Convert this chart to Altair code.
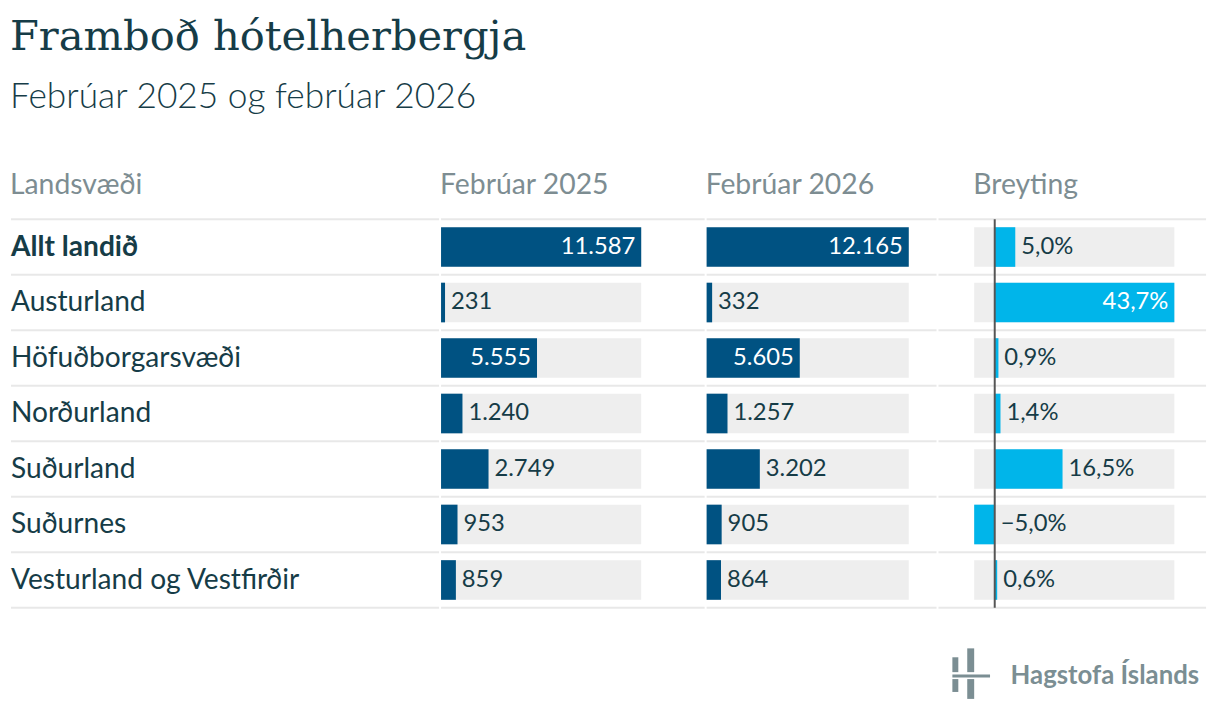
import altair as alt
import pandas as pd

# ---- data ----
regions = [
    "Allt landið",
    "Austurland",
    "Höfuðborgarsvæði",
    "Norðurland",
    "Suðurland",
    "Suðurnes",
    "Vesturland og Vestfirðir",
]
feb2025 = [11587, 231, 5555, 1240, 2749, 953, 859]
feb2026 = [12165, 332, 5605, 1257, 3202, 905, 864]
change = [5.0, 43.7, 0.9, 1.4, 16.5, -5.0, 0.6]

headers = ["Landsvæði", "Febrúar 2025", "Febrúar 2026", "Breyting"]
title_text = "Framboð hótelherbergja"
subtitle_text = "Febrúar 2025 og febrúar 2026"
logo_text = "Hagstofa Íslands"

# ---- styles ----
DARK = "#163c47"
GRAY = "#7d8d92"
BAR = "#005282"
LIGHT = "#00b5ea"
BG = "#eeeeee"
SEP = "#e8e8e8"
ZERO = "#555555"
LOGO = "#7b8e93"
FONT = "Lato"
FS = 24        # value labels
FS_ROW = 28.4  # row labels
FS_HEAD = 28.6 # column headers
ROW_H = 56
H = ROW_H * len(regions)


def fmt_int(v):
    return f"{v:,}".replace(",", ".")


def fmt_pct(v):
    s = f"{abs(v):.1f}".replace(".", ",") + "%"
    return ("\u2212" + s) if v < 0 else s


df = pd.DataFrame({"region": regions, "v25": feb2025, "v26": feb2026, "chg": change})
df["l25"] = [fmt_int(v) for v in feb2025]
df["l26"] = [fmt_int(v) for v in feb2026]
df["lchg"] = [fmt_pct(v) for v in change]
df["bold"] = [r == "Allt landið" for r in regions]
df["mx25"] = df["v25"].max()
df["mx26"] = df["v26"].max()
cmin, cmax = min(change), max(change)
df["mnchg"] = cmin
df["mxchg"] = cmax
df["zero"] = 0.0
df["in25"] = df["v25"] / df["mx25"] > 0.4
df["in26"] = df["v26"] / df["mx26"] > 0.4
df["inchg"] = (df["chg"] - cmin) / (cmax - cmin) > 0.6
df["poschg"] = df["chg"].clip(lower=0)

Y = alt.Y("region:N", sort=regions, axis=None,
          scale=alt.Scale(paddingInner=0, paddingOuter=0))


def header(t, dx=0):
    return alt.TitleParams(t, anchor="start", font=FONT, fontSize=FS_HEAD, dx=dx,
                           fontWeight="normal", color=GRAY, offset=19)


one = pd.DataFrame({"k": [0]})


def separators(width):
    """Row separator lines: one at the top of every row band plus one at the bottom."""
    top = alt.Chart(df).mark_rule(color=SEP, strokeWidth=2, yOffset=-ROW_H / 2).encode(
        y=Y, x=alt.value(0), x2=alt.value(width))
    bottom = alt.Chart(one).mark_rule(color=SEP, strokeWidth=2).encode(
        y=alt.value(H), x=alt.value(0), x2=alt.value(width))
    return [top, bottom]


# ---- panel 1: region labels ----
W1 = 432
lab_norm = alt.Chart(df).transform_filter("!datum.bold").mark_text(
    align="left", baseline="middle", font=FONT, fontSize=FS_ROW, color=DARK
).encode(y=Y, x=alt.value(0), text="region:N")
lab_bold = alt.Chart(df).transform_filter("datum.bold").mark_text(
    align="left", baseline="middle", font=FONT, fontSize=FS_ROW, color=DARK, fontWeight="bold"
).encode(y=Y, x=alt.value(0), text="region:N")
p1 = alt.layer(*separators(W1), lab_norm, lab_bold).properties(
    width=W1, height=H, title=header(headers[0])
)


# ---- panels 2 & 3: value bars ----
def bar_panel(field, mxf, lab, inside, width, rng, head):
    xs = alt.Scale(domain=[0, float(df[field].max())], range=rng, nice=False)
    base = alt.Chart(df)
    bg = base.mark_bar(height=40, color=BG).encode(
        y=Y, x=alt.X(f"{mxf}:Q", scale=xs, axis=None), x2="zero:Q")
    bar = base.mark_bar(height=40, color=BAR).encode(
        y=Y, x=alt.X(f"{field}:Q", scale=xs, axis=None), x2="zero:Q")
    t_in = base.transform_filter(f"datum.{inside}").mark_text(
        align="right", baseline="middle", dx=-6, font=FONT, fontSize=FS, color="white"
    ).encode(y=Y, x=alt.X(f"{field}:Q", scale=xs, axis=None), text=f"{lab}:N")
    t_out = base.transform_filter(f"!datum.{inside}").mark_text(
        align="left", baseline="middle", dx=6, font=FONT, fontSize=FS, color=DARK
    ).encode(y=Y, x=alt.X(f"{field}:Q", scale=xs, axis=None), text=f"{lab}:N")
    return alt.layer(*separators(width), bg, bar, t_in, t_out).properties(
        width=width, height=H, title=header(head)
    )


p2 = bar_panel("v25", "mx25", "l25", "in25", 266, [0, 202], headers[1])
p3 = bar_panel("v26", "mx26", "l26", "in26", 232, [0, 204], headers[2])

# ---- panel 4: change ----
W4 = 270
xs4 = alt.Scale(domain=[cmin, cmax], range=[36, 238], nice=False, zero=False)
base4 = alt.Chart(df)
bg4 = base4.mark_bar(height=40, color=BG).encode(
    y=Y, x=alt.X("mnchg:Q", scale=xs4, axis=None), x2="mxchg:Q")
bar4 = base4.mark_bar(height=40, color=LIGHT).encode(
    y=Y, x=alt.X("chg:Q", scale=xs4, axis=None), x2="zero:Q")
zero = alt.Chart(one).transform_calculate(z="0").mark_rule(color=ZERO, strokeWidth=2).encode(
    x=alt.X("z:Q", scale=xs4, axis=None)
)
t4_in = base4.transform_filter("datum.inchg").mark_text(
    align="right", baseline="middle", dx=-6, font=FONT, fontSize=FS, color="white"
).encode(y=Y, x=alt.X("chg:Q", scale=xs4, axis=None), text="lchg:N")
t4_out = base4.transform_filter("!datum.inchg").mark_text(
    align="left", baseline="middle", dx=6, font=FONT, fontSize=FS, color=DARK
).encode(y=Y, x=alt.X("poschg:Q", scale=xs4, axis=None), text="lchg:N")

# logo (decorative)
logo_parts = [
    alt.Chart(one).mark_rule(color=LOGO, strokeWidth=6).encode(
        x=alt.value(17), y=alt.value(442), y2=alt.value(457)),
    alt.Chart(one).mark_rule(color=LOGO, strokeWidth=6).encode(
        x=alt.value(17), y=alt.value(464), y2=alt.value(477)),
    alt.Chart(one).mark_rule(color=LOGO, strokeWidth=7).encode(
        x=alt.value(32.5), y=alt.value(433), y2=alt.value(457)),
    alt.Chart(one).mark_rule(color=LOGO, strokeWidth=7).encode(
        x=alt.value(32.5), y=alt.value(464), y2=alt.value(484)),
    alt.Chart(one).mark_rule(color=LOGO, strokeWidth=3).encode(
        x=alt.value(14), x2=alt.value(52), y=alt.value(461)),
    alt.Chart(one).mark_text(align="right", baseline="alphabetic", font=FONT,
                             fontSize=26, fontWeight="bold", color=LOGO).encode(
        x=alt.value(263), y=alt.value(469), text=alt.value(logo_text)),
]

p4 = alt.layer(*separators(W4), bg4, bar4, t4_in, t4_out, zero, *logo_parts).properties(
    width=W4, height=H, title=header(headers[3], dx=36)
)

chart = alt.hconcat(p1, p2, p3, p4, spacing=0).properties(
    title=alt.TitleParams(
        title_text, subtitle=subtitle_text, anchor="start",
        font="DejaVu Serif", fontSize=42, fontWeight="normal", color=DARK,
        subtitleFont=FONT, subtitleFontSize=35.6, subtitleFontWeight=300,
        subtitleColor=DARK, subtitlePadding=22, offset=55,
    ),
    padding={"left": 2, "top": 4, "right": 5, "bottom": 5},
).configure_view(stroke=None)

chart.save("out.html", embed_options={"renderer": "svg", "actions": False})
